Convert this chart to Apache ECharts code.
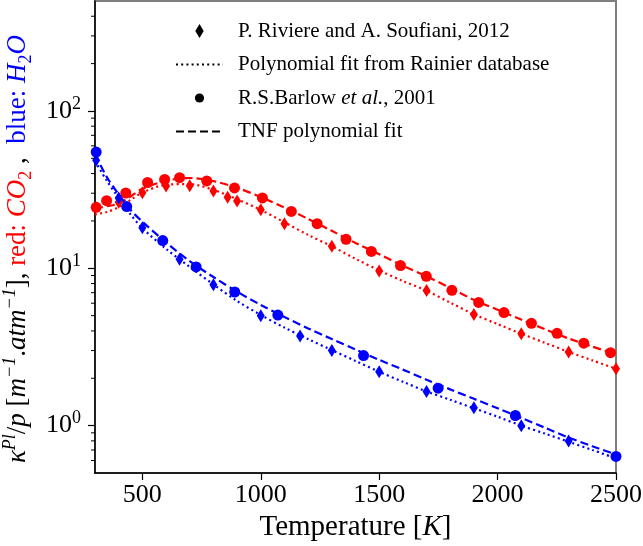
<!DOCTYPE html>
<html>
<head>
<meta charset="utf-8">
<script src="https://cdn.jsdelivr.net/npm/echarts@6/dist/echarts.min.js"></script>
<style>
  html, body { margin: 0; padding: 0; background: #fff; }
  #chart { width: 643px; height: 546px; }
</style>
</head>
<body>
<div id="chart"></div>
<script>
// --- data ---
var xTicks = [500, 1000, 1500, 2000, 2500];
var yTicks = [1, 10, 100];
var yMinorTicks = [0.6, 0.7, 0.8, 0.9, 2, 3, 4, 5, 6, 7, 8, 9, 20, 30, 40, 50, 60, 70, 80, 90, 200, 300, 400];

var legendNames = ['P. Riviere and A. Soufiani, 2012', 'Polynomial fit from Rainier database',
                   'R.S.Barlow et al., 2001', 'TNF polynomial fit'];

// CO2 (red)
var riviereCO2T = [400, 500, 600, 700, 800, 860, 900, 1000, 1100, 1300, 1500, 1700, 1900, 2100, 2300, 2500];
var riviereCO2K = [26.3, 30.2, 33.3, 33.5, 31.0, 28.3, 26.8, 23.6, 19.2, 13.8, 9.6, 7.22, 5.08, 3.84, 2.94, 2.30];
var barlowCO2T = [305, 349, 430, 522, 594, 657, 772, 889, 1007, 1129, 1238, 1360, 1467, 1590, 1699, 1807, 1920, 2027, 2143, 2251, 2364, 2477];
var barlowCO2K = [24.4, 26.9, 30.1, 35.1, 36.7, 37.7, 35.9, 32.4, 28.0, 23.0, 19.2, 15.3, 12.8, 10.4, 8.9, 7.25, 6.07, 5.23, 4.47, 3.86, 3.34, 2.91];

// H2O (blue)
var riviereH2OT = [305, 400, 500, 657, 800, 1000, 1166, 1300, 1500, 1700, 1900, 2100, 2300];
var riviereH2OK = [48.7, 28.0, 18.1, 11.4, 7.86, 5.0, 3.71, 3.0, 2.20, 1.65, 1.30, 1.0, 0.80];
var barlowH2OT = [305, 434, 586, 727, 890, 1072, 1434, 1749, 2075, 2500];
var barlowH2OK = [54.8, 24.7, 15.0, 10.2, 7.07, 5.04, 2.79, 1.73, 1.16, 0.637];

// fitted curves, sampled
var fitT = [300, 350, 400, 450, 500, 600, 700, 800, 900, 1000, 1100, 1200, 1300, 1400, 1500,
            1600, 1700, 1800, 1900, 2000, 2100, 2200, 2300, 2400, 2500];
var polyCO2 = [22.0, 22.8, 24.5, 27.2, 30.3, 34.0, 34.3, 31.5, 27.5, 23.5, 19.6, 16.3, 13.8, 11.5, 9.7,
               8.3, 7.2, 6.05, 5.1, 4.42, 3.84, 3.36, 2.94, 2.6, 2.3];
var tnfCO2 = [24.0, 24.8, 25.8, 28.6, 32.0, 36.0, 37.5, 35.8, 32.5, 28.4, 24.3, 20.6, 17.3, 14.5, 12.3,
              10.4, 8.9, 7.5, 6.3, 5.45, 4.72, 4.1, 3.58, 3.18, 2.85];
var polyH2O = [48, 36, 28, 22, 18, 13.3, 10.2, 7.9, 6.2, 5.05, 4.2, 3.55, 3.02, 2.58, 2.2,
               1.9, 1.65, 1.46, 1.29, 1.14, 1.0, 0.89, 0.79, 0.7, 0.62];
var tnfH2O = [53, 38, 29.5, 23.5, 19.8, 14.6, 11.1, 8.8, 7.1, 5.85, 4.9, 4.15, 3.55, 3.05, 2.62,
              2.27, 1.96, 1.7, 1.48, 1.29, 1.12, 0.97, 0.84, 0.74, 0.655];

var xMin = 300, xMax = 2500, yMin = 0.5, yMax = 500;

// --- chart ---
var FONT = 'Liberation Serif';
var RED = '#ff0000', BLUE = '#0000ff';
var DIAMOND = 'path://M0,-10 L6,0 L0,10 L-6,0 Z';
// circle with some empty room above/below so the legend icon stays small
var LEGEND_CIRCLE = 'path://M0,-7 M0,7 M-4.6,0 A4.6,4.6,0,1,1,4.6,0 A4.6,4.6,0,1,1,-4.6,0 Z';
var DOTTED = [2, 3.2];
var DASHED = [8, 4];

function pairs(xs, ys) {
    return xs.map(function (x, i) { return [x, ys[i]]; });
}

function curve(name, xs, ys, color, dash) {
    return {
        name: name, type: 'line', data: pairs(xs, ys),
        smooth: 0.3, showSymbol: false, symbol: 'none', silent: true,
        itemStyle: { color: color, opacity: 0 },
        lineStyle: { color: color, width: 2.2, type: dash }, z: 2
    };
}

function marks(name, xs, ys, color, symbol, size) {
    return {
        name: name, type: 'scatter', data: pairs(xs, ys),
        symbol: symbol, symbolSize: size, silent: true,
        itemStyle: { color: color, opacity: 1 }, z: 3
    };
}

var chart = echarts.init(document.getElementById('chart'));

var option = {
    animation: false,
    grid: {
        left: 95, right: 27, top: 1, bottom: 73, outerBoundsMode: 'none',
        show: true, borderColor: '#7f7f7f', borderWidth: 2
    },
    legend: {
        data: [
            { name: legendNames[0] },
            { name: legendNames[1] },
            { name: legendNames[2], icon: LEGEND_CIRCLE },
            { name: legendNames[3] }
        ],
        orient: 'vertical', left: 170, top: 15,
        itemWidth: 47, itemHeight: 14, itemGap: 11.5,
        textStyle: {
            fontFamily: FONT, fontSize: 21, color: '#000', lineHeight: 22, padding: [0, 0, 0, 10],
            rich: { i: { fontFamily: FONT, fontSize: 21, fontStyle: 'italic', color: '#000' } }
        },
        formatter: function (name) {
            if (name === legendNames[2]) return 'R.S.Barlow {i|et al.}, 2001';
            return name;
        }
    },
    xAxis: {
        type: 'value', min: xMin, max: xMax,
        name: '{n|Temperature [}{i|K}{n|]}', nameLocation: 'middle', nameGap: 34,
        nameTextStyle: {
            rich: {
                n: { fontFamily: FONT, fontSize: 29, color: '#000' },
                i: { fontFamily: FONT, fontSize: 29, fontStyle: 'italic', color: '#000' }
            }
        },
        axisLine: { show: true, lineStyle: { color: '#000', width: 1.5 } },
        axisTick: { show: true, length: 7, lineStyle: { color: '#000', width: 1.2 }, customValues: xTicks },
        axisLabel: {
            fontFamily: FONT, fontSize: 26, color: '#000', margin: 9, customValues: xTicks,
            formatter: function (v) { return String(v); }
        },
        splitLine: { show: false }
    },
    yAxis: {
        type: 'log', logBase: 10, min: yMin, max: yMax,
        name: '{it|κ}{sup|Pl}{n|/}{it|p}{n| [}{it|m}{sup|−1}{n|.}{it|atm}{sup|−1}{n|],}' +
              '{r| red: }{ri|CO}{rsub|2}{n| ,}{b|  blue: }{bi|H}{bsub|2}{bi|O}',
        nameLocation: 'middle', nameRotate: 90, nameGap: 31,
        nameTextStyle: {
            padding: [0, 24, 0, 0],
            rich: {
                n: { fontFamily: FONT, fontSize: 27, color: '#000', lineHeight: 34 },
                it: { fontFamily: FONT, fontSize: 27, fontStyle: 'italic', color: '#000', lineHeight: 34 },
                sup: { fontFamily: FONT, fontSize: 18, fontStyle: 'italic', color: '#000', verticalAlign: 'top' },
                r: { fontFamily: FONT, fontSize: 27, color: RED, lineHeight: 34 },
                ri: { fontFamily: FONT, fontSize: 27, fontStyle: 'italic', color: RED, lineHeight: 34 },
                rsub: { fontFamily: FONT, fontSize: 18, color: RED, verticalAlign: 'bottom' },
                b: { fontFamily: FONT, fontSize: 27, color: BLUE, lineHeight: 34 },
                bi: { fontFamily: FONT, fontSize: 27, fontStyle: 'italic', color: BLUE, lineHeight: 34 },
                bsub: { fontFamily: FONT, fontSize: 18, color: BLUE, verticalAlign: 'bottom' }
            }
        },
        axisLine: { show: true, lineStyle: { color: '#000', width: 1.5 } },
        axisTick: { show: true, length: 7, lineStyle: { color: '#000', width: 1.2 }, customValues: yTicks },
        axisLabel: {
            margin: 14, customValues: yTicks,
            formatter: function (v) {
                return '{b|10}{s|' + Math.round(Math.log10(v)) + '}';
            },
            rich: {
                b: { fontFamily: FONT, fontSize: 26, color: '#000', lineHeight: 32 },
                s: { fontFamily: FONT, fontSize: 18, color: '#000', verticalAlign: 'top' }
            }
        },
        splitLine: { show: false }
    },
    series: [
        // legend-only entries (black)
        marks(legendNames[0], [], [], '#000', DIAMOND, [8, 13]),
        curve(legendNames[1], [], [], '#000', DOTTED),
        marks(legendNames[2], [], [], '#000', 'circle', 11),
        curve(legendNames[3], [], [], '#000', DASHED),
        // CO2
        curve('polyCO2', fitT, polyCO2, RED, DOTTED),
        curve('tnfCO2', fitT, tnfCO2, RED, DASHED),
        marks('riviereCO2', riviereCO2T, riviereCO2K, RED, DIAMOND, [8, 13]),
        marks('barlowCO2', barlowCO2T, barlowCO2K, RED, 'circle', 11),
        // H2O
        curve('polyH2O', fitT, polyH2O, BLUE, DOTTED),
        curve('tnfH2O', fitT, tnfH2O, BLUE, DASHED),
        marks('riviereH2O', riviereH2OT, riviereH2OK, BLUE, DIAMOND, [8, 13]),
        marks('barlowH2O', barlowH2OT, barlowH2OK, BLUE, 'circle', 11),
        // minor ticks of the log axis
        {
            type: 'custom', silent: true, clip: false, z: 5,
            data: yMinorTicks.map(function (v) { return [xMin, v]; }),
            renderItem: function (params, api) {
                var p = api.coord([api.value(0), api.value(1)]);
                return {
                    type: 'line',
                    shape: { x1: p[0] - 4, y1: p[1], x2: p[0], y2: p[1] },
                    style: { stroke: '#000', lineWidth: 1 }
                };
            }
        }
    ]
};

chart.setOption(option);
</script>
</body>
</html>
